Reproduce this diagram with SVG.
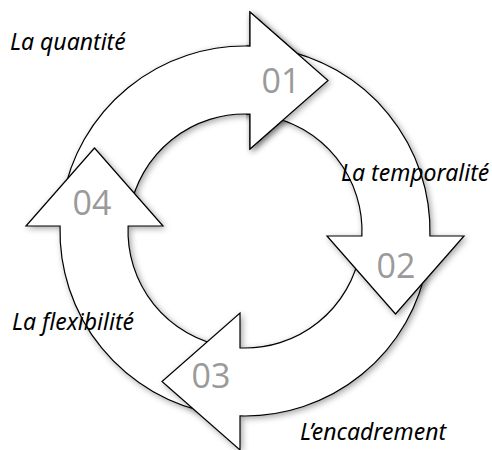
<svg xmlns="http://www.w3.org/2000/svg" xmlns:xlink="http://www.w3.org/1999/xlink" width="492" height="450" viewBox="0 0 492 450">
  <style>
    .arrow { fill: #ffffff; stroke: #000000; stroke-width: 1.2; stroke-linejoin: miter; }
    .num { font-family: "Open Sans", "DejaVu Sans", sans-serif; font-size: 34px; fill: #9a9a9a; text-anchor: middle; }
    .label { font-family: "Noto Sans", "Lato", sans-serif; font-style: italic; font-size: 23px; fill: #000000; }
  </style>
  <defs>
    <filter id="sh" x="-20%" y="-20%" width="140%" height="140%">
      <feDropShadow dx="2" dy="2" stdDeviation="3" flood-color="#000000" flood-opacity="0.35"/>
    </filter>
    <clipPath id="clipTR">
      <rect x="246" y="0" width="246" height="231"/>
    </clipPath>
    <path id="arr" class="arrow" d="M62.81,198.87 A185,185 0 0 1 250,46.07 L250,12 L328,80.5 L250,149 L250,114.11 A117,117 0 0 0 129.78,210.68 Z"/>
  </defs>
  <rect width="492" height="450" fill="#ffffff"/>
  <g id="connectors">
    <g id="arrow-01" filter="url(#sh)"><use xlink:href="#arr"/></g>
    <g id="arrow-04" filter="url(#sh)"><use xlink:href="#arr" transform="rotate(270 245 231)"/></g>
    <g id="arrow-03" filter="url(#sh)"><use xlink:href="#arr" transform="rotate(180 245 231)"/></g>
    <g id="arrow-02" filter="url(#sh)"><use xlink:href="#arr" transform="rotate(90 245 231)"/></g>
    <g id="arrow-01-head" clip-path="url(#clipTR)"><g filter="url(#sh)"><use xlink:href="#arr"/></g></g>
  </g>
  <g id="node-01"><text class="num" x="281" y="93">01</text></g>
  <g id="node-02"><text class="num" x="396" y="278">02</text></g>
  <g id="node-03"><text class="num" x="211" y="388">03</text></g>
  <g id="node-04"><text class="num" x="92" y="215">04</text></g>
  <g id="label-quantite"><text class="label" x="10" y="50">La quantité</text></g>
  <g id="label-temporalite"><text class="label" x="341" y="181">La temporalité</text></g>
  <g id="label-flexibilite"><text class="label" x="12" y="330">La flexibilité</text></g>
  <g id="label-encadrement"><text class="label" x="300" y="440">L’encadrement</text></g>
</svg>
